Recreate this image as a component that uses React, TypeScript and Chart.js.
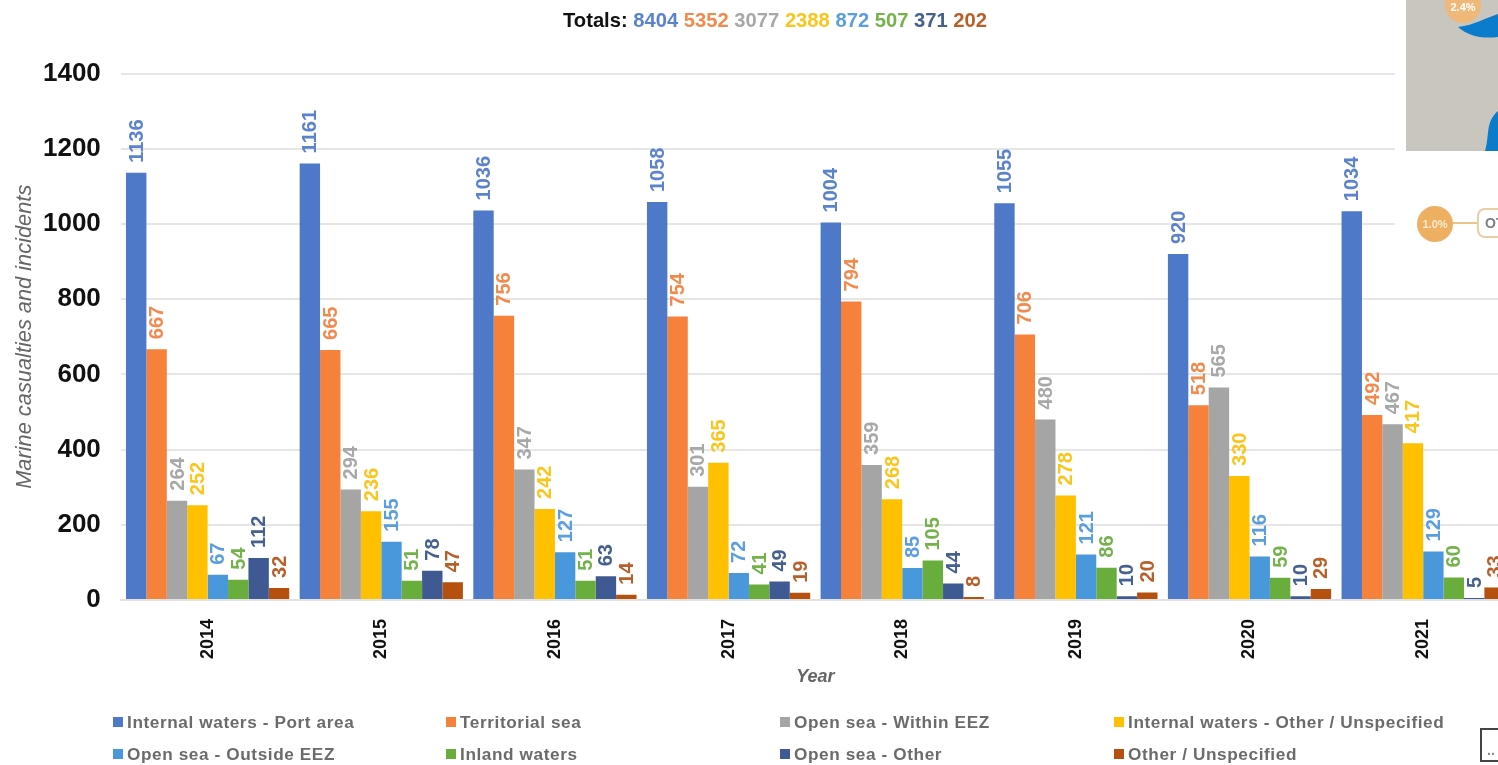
import React, { useEffect, useRef } from "react";
import { Chart, registerables } from "chart.js";

Chart.register(...registerables);

const years = ["2014", "2015", "2016", "2017", "2018", "2019", "2020", "2021"];
const seriesNames = [
  "Internal waters - Port area",
  "Territorial sea",
  "Open sea - Within EEZ",
  "Internal waters - Other / Unspecified",
  "Open sea - Outside EEZ",
  "Inland waters",
  "Open sea - Other",
  "Other / Unspecified",
];
const seriesColors = ["#4E79C9", "#F5813A", "#A5A5A5", "#FFC000", "#4A98DC", "#69AE3C", "#3F5A92", "#B5500F"];
const labelColors = ["#5B82CC", "#F28A4E", "#A8A8A8", "#FBC51C", "#5A9EE0", "#74B24C", "#46608F", "#B9602A"];

const portArea = [1136, 1161, 1036, 1058, 1004, 1055, 920, 1034];
const territorialSea = [667, 665, 756, 754, 794, 706, 518, 492];
const withinEez = [264, 294, 347, 301, 359, 480, 565, 467];
const internalOther = [252, 236, 242, 365, 268, 278, 330, 417];
const outsideEez = [67, 155, 127, 72, 85, 121, 116, 129];
const inlandWaters = [54, 51, 51, 41, 105, 86, 59, 60];
const openSeaOther = [112, 78, 63, 49, 44, 10, 10, 5];
const otherUnspecified = [32, 47, 14, 19, 8, 20, 29, 33];
const seriesValues = [portArea, territorialSea, withinEez, internalOther, outsideEez, inlandWaters, openSeaOther, otherUnspecified];

const totals = [8404, 5352, 3077, 2388, 872, 507, 371, 202];

const FONT = "'Liberation Sans', Arial, sans-serif";

const barLabels = {
  id: "barLabels",
  afterDatasetsDraw(chart: any) {
    const ctx = chart.ctx;
    chart.data.datasets.forEach((ds: any, i: number) => {
      chart.getDatasetMeta(i).data.forEach((bar: any, j: number) => {
        ctx.save();
        ctx.translate(bar.x + 1, bar.y - 10);
        ctx.rotate(-Math.PI / 2);
        ctx.font = `bold 20px ${FONT}`;
        ctx.fillStyle = labelColors[i];
        ctx.textAlign = "left";
        ctx.textBaseline = "middle";
        ctx.fillText(String(ds.data[j]), 0, 0);
        ctx.restore();
      });
    });
  },
};

const legendColumns = [113, 446, 780, 1114];
const legendRows = [722, 754];

export default function App() {
  const ref = useRef<HTMLCanvasElement>(null);
  useEffect(() => {
    const chart = new Chart(ref.current!, {
      type: "bar",
      data: {
        labels: years,
        datasets: seriesNames.map((name, i) => ({
          label: name,
          data: seriesValues[i],
          backgroundColor: seriesColors[i],
          categoryPercentage: 0.94,
          barPercentage: 1.0,
          borderWidth: 0,
        })),
      },
      options: {
        responsive: false,
        animation: false,
        layout: { padding: { top: 73.5, left: 0, right: 0, bottom: 0 } },
        plugins: { legend: { display: false }, tooltip: { enabled: false } },
        scales: {
          x: {
            afterFit: (s: any) => { s.height = 165; },
            grid: { display: false, drawTicks: false },
            border: { display: true, color: "#E2E2E2", width: 2 },
            ticks: {
              color: "#111",
              font: { family: FONT, weight: "bold", size: 18 },
              maxRotation: 90,
              minRotation: 90,
              padding: 19,
            },
            title: {
              display: true,
              text: "Year",
              color: "#666",
              font: { family: FONT, style: "italic", weight: "bold", size: 18 },
              padding: { top: 0, bottom: 77 },
            },
          },
          y: {
            min: 0,
            max: 1400,
            afterFit: (s: any) => { s.width = 120.8; },
            grid: { color: "#E6E6E6", lineWidth: 2, drawTicks: false },
            border: { display: false },
            ticks: {
              stepSize: 200,
              color: "#111",
              font: { family: FONT, weight: "bold", size: 26 },
              padding: 20,
              callback: (v: any) => String(v),
            },
            title: {
              display: true,
              text: "Marine casualties and incidents",
              color: "#666",
              font: { family: FONT, style: "italic", size: 21.8 },
              padding: { top: 12, bottom: 0 },
            },
          },
        },
      },
      plugins: [barLabels],
    } as any);
    return () => chart.destroy();
  }, []);

  return (
    <div style={{ position: "fixed", left: 0, top: 0, width: 1498, height: 765, overflow: "hidden", background: "#fff", fontFamily: FONT, filter: "blur(0.5px)" }}>
      <canvas ref={ref} width={1510} height={765} style={{ position: "absolute", left: 0, top: 0, width: 1510, height: 765 }} />
      <div style={{ position: "absolute", left: 0, width: 1550, top: 9, textAlign: "center", fontSize: 20.2, fontWeight: "bold", color: "#111", whiteSpace: "pre" }}>
        Totals:{" "}
        {totals.map((t, i) => (
          <span key={i} style={{ color: labelColors[i] }}>{t}{i < totals.length - 1 ? " " : ""}</span>
        ))}
      </div>
      {seriesNames.map((name, i) => (
        <div key={name} style={{ position: "absolute", left: legendColumns[i % 4], top: legendRows[Math.floor(i / 4)] - 11, height: 22, lineHeight: "22px", display: "flex", alignItems: "center", whiteSpace: "pre", fontSize: 17.2, fontWeight: "bold", color: "#6B6B6B", letterSpacing: 0.6 }}>
          <span style={{ width: 10, height: 10, background: seriesColors[i], marginRight: 4, display: "inline-block" }} />
          {name}
        </div>
      ))}
      <svg width={1498} height={765} style={{ position: "absolute", left: 0, top: 0, pointerEvents: "none" }}>
        <rect x={1395} y={0} width={103} height={270} fill="#fff" />
        <rect x={1406} y={0} width={92} height={151} fill="#C9C6C0" />
        <path d="M1458 27 C1475 25 1485 18 1498 14 L1498 37 C1482 39 1468 36 1458 27 Z" fill="#0A7CCB" />
        <path d="M1485 151 C1490 135 1485 122 1498 111 L1498 151 Z" fill="#0A7CCB" />
        <circle cx={1463} cy={5} r={18} fill="#F0B878" />
        <text x={1463} y={11} textAnchor="middle" fontSize={11} fontWeight="bold" fill="#fff" fontFamily={FONT}>2.4%</text>
        <line x1={1450} y1={223} x2={1480} y2={223} stroke="#E9C48E" strokeWidth={2} />
        <circle cx={1435} cy={224} r={18} fill="#EDB062" />
        <text x={1435} y={228} textAnchor="middle" fontSize={11} fontWeight="bold" fill="#FBE9D2" fontFamily={FONT}>1.0%</text>
        <rect x={1478} y={209} width={40} height={28} rx={7} fill="#fff" stroke="#E9CFA6" strokeWidth={2} />
        <text x={1485} y={228} fontSize={14} fontWeight="bold" fill="#7A8088" fontFamily={FONT}>OT</text>
        <rect x={1481} y={729} width={24} height={32} fill="#fff" stroke="#444" strokeWidth={2} />
        <text x={1487} y={755} fontSize={14} fontWeight="bold" fill="#888" fontFamily={FONT}>..</text>
      </svg>
    </div>
  );
}
